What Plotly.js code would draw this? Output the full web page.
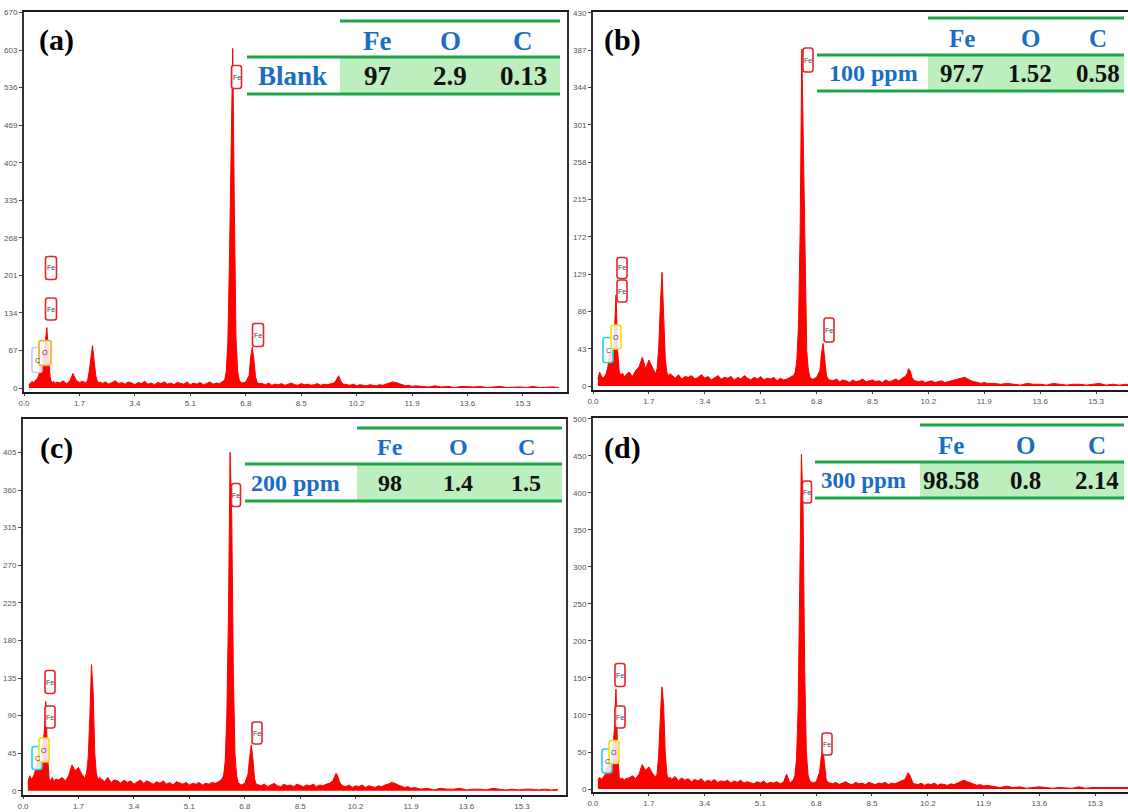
<!DOCTYPE html>
<html>
<head>
<meta charset="utf-8">
<script src="https://cdn.plot.ly/plotly-3.0.1.min.js"></script>
<style>html,body{margin:0;padding:0;background:#fff;}#chart{width:1128px;height:812px;}</style>
</head>
<body>
<div id="chart"></div>
<script>
// ---------------- DATA ----------------
const energy_keV = [
  0.15,0.20,0.25,0.30,0.35,0.40,0.45,0.50,0.55,0.60,0.65,0.70,0.75,0.80,0.85,0.90,0.95,1.00,
  1.1,1.2,1.3,1.4,1.5,1.6,1.7,1.8,1.9,
  1.95,2.00,2.05,2.10,2.15,2.20,2.25,2.30,2.35,
  2.4,2.5,2.6,2.7,2.8,2.9,3.0,3.1,3.2,3.3,3.4,3.5,3.6,3.7,3.8,3.9,4.0,4.1,4.2,4.3,4.4,4.5,4.6,4.7,4.8,4.9,5.0,5.1,5.2,5.3,5.4,5.5,5.6,5.7,5.8,5.9,6.0,6.1,
  6.15,6.20,6.25,6.30,6.35,6.40,6.45,6.50,6.55,6.60,6.65,
  6.7,6.8,6.9,
  6.95,7.00,7.05,7.10,7.15,7.20,
  7.3,7.4,7.5,7.6,7.7,7.8,7.9,8.0,8.1,8.2,8.3,8.4,8.5,8.6,8.7,8.8,8.9,9.0,9.1,9.2,9.3,9.4,9.5,
  9.55,9.60,9.65,9.70,9.75,9.80,
  9.9,10.0,10.1,10.2,10.3,10.4,10.5,10.6,10.7,10.8,10.9,11.0,11.1,11.2,11.3,11.4,11.5,11.6,11.7,11.8,11.9,12.0,
  12.2,12.4,12.6,12.8,13.0,13.2,13.4,13.6,13.8,14.0,14.2,14.4,14.6,14.8,15.0,15.2,15.4,15.6,15.8,16.0,16.2,16.4
];

// (a) Blank
const counts_a = [
  6,10,12,9,14,16,22,38,55,62,80,108,60,20,9,12,8,11,
  9,13,8,12,26,14,10,12,9,
  14,30,55,76,50,22,12,9,11,
  8,11,7,10,13,8,10,7,11,9,6,10,8,12,7,9,6,10,8,11,7,9,6,10,8,7,11,6,9,7,10,6,8,11,7,9,8,12,
  14,28,80,230,470,606,320,90,30,14,10,
  9,11,22,
  55,73,50,20,10,8,
  8,6,9,5,7,6,8,5,7,9,6,5,8,6,7,5,6,8,5,7,6,8,9,
  12,18,22,14,9,7,
  6,5,7,4,6,5,4,6,5,4,6,5,7,9,11,10,8,5,4,5,3,4,
  3,2,4,2,3,1,3,2,2,3,1,2,3,1,2,2,1,3,1,2,2,1
];
// (b) 100 ppm
const counts_b = [
  8,16,12,9,11,14,22,35,42,45,60,105,40,16,12,15,10,13,
  16,11,18,22,33,20,30,22,14,
  20,45,95,131,80,30,15,12,14,
  12,9,13,8,11,10,12,8,10,13,9,11,7,10,12,8,10,9,11,7,10,8,12,9,7,10,8,11,7,9,8,10,6,9,7,8,10,12,
  16,30,70,180,388,260,110,40,18,10,8,
  8,10,18,
  38,49,30,12,8,7,
  6,8,5,7,6,4,7,5,6,8,5,6,7,5,6,4,7,5,6,8,6,9,11,
  14,20,17,10,7,6,
  5,6,4,5,6,4,5,6,4,5,6,7,8,9,10,8,6,5,4,3,4,3,
  3,2,3,2,1,3,2,2,1,3,2,1,2,2,1,2,3,1,2,1,2,1
];
// (c) 200 ppm
const counts_c = [
  10,18,14,16,20,30,36,40,42,48,70,107,45,15,12,16,11,14,
  13,16,12,18,31,24,28,20,15,
  22,40,90,151,120,45,20,13,16,
  14,11,16,10,13,12,9,13,10,12,8,11,13,9,12,10,8,11,9,12,8,10,7,11,9,8,10,7,9,8,10,7,9,8,10,9,11,14,
  18,35,90,210,405,330,140,45,18,10,8,
  7,9,20,
  40,55,38,14,8,7,
  6,8,5,7,9,6,5,8,6,7,5,8,6,5,7,6,8,5,7,6,8,9,12,
  16,21,18,11,8,6,
  5,7,4,6,5,7,4,6,5,4,6,5,7,8,10,9,7,5,4,5,3,4,
  2,3,1,3,2,2,3,1,2,2,1,3,2,1,2,1,2,2,1,2,1,2
];
// (d) 300 ppm
const counts_d = [
  12,16,13,15,18,24,32,36,40,50,80,135,50,16,13,15,12,14,
  15,18,14,20,33,25,30,22,16,
  20,45,95,138,115,50,20,14,16,
  13,17,11,15,12,14,10,13,11,14,9,12,10,13,9,11,10,12,8,11,9,12,8,10,9,7,10,8,11,7,9,8,10,7,9,20,8,12,
  18,40,110,260,452,380,160,50,20,11,9,
  8,10,22,
  42,54,36,14,9,8,
  7,9,6,8,10,7,6,9,7,8,6,9,7,6,8,7,9,6,8,7,9,11,13,
  17,22,19,12,8,7,
  6,8,5,7,6,8,5,7,6,5,7,6,8,10,12,10,8,6,5,6,4,5,
  3,2,4,2,3,1,2,3,2,1,2,2,1,3,1,2,2,1,2,1,1,2
];

const x_tick_vals = [0, 1.7, 3.4, 5.1, 6.8, 8.5, 10.2, 11.9, 13.6, 15.3];
const x_tick_text = ['0.0','1.7','3.4','5.1','6.8','8.5','10.2','11.9','13.6','15.3'];
const y_ticks_a = [0,67,134,201,268,335,402,469,536,603,670];
const y_ticks_b = [0,43,86,129,172,215,258,301,344,387,430];
const y_ticks_c = [0,45,90,135,180,225,270,315,360,405];
const y_ticks_d = [0,50,100,150,200,250,300,350,400,450,500];

const panel_letters = ['(a)','(b)','(c)','(d)'];
const sample_labels = ['Blank','100 ppm','200 ppm','300 ppm'];
const element_headers = ['Fe','O','C'];
const fe_wt = [97, 97.7, 98, 98.58];
const o_wt  = [2.9, 1.52, 1.4, 0.8];
const c_wt  = [0.13, 0.58, 1.5, 2.14];

[counts_a, counts_b, counts_c, counts_d].forEach((c,i)=>{
  if (c.length !== energy_keV.length) throw new Error('length mismatch panel '+i+': '+c.length+' vs '+energy_keV.length);
});

// ---------------- LAYOUT HELPERS ----------------
const W = 1128, H = 812;
const X = px => px / W;
const Y = py => 1 - py / H;

const panels = [
  {counts: counts_a, yt: y_ticks_a, xd:[24,567], yd:[12,392], xr:[0,16.65], yr:[-7,671], rightLine:true},
  {counts: counts_b, yt: y_ticks_b, xd:[593,1128], yd:[12,390], xr:[0,16.27], yr:[-4.6,431], rightLine:false},
  {counts: counts_c, yt: y_ticks_c, xd:[23,566], yd:[419,795], xr:[0,16.65], yr:[-5,445], rightLine:true},
  {counts: counts_d, yt: y_ticks_d, xd:[593,1128], yd:[418,792], xr:[0,16.3], yr:[-4,501], rightLine:false}
];

const tickFont = {family:'"Liberation Sans Narrow","Liberation Sans",Arial,sans-serif', size:8, color:'#555'};
const traces = [];
const layout = {
  width: W, height: H,
  margin: {l:0, r:0, t:0, b:0},
  paper_bgcolor: '#ffffff', plot_bgcolor: '#ffffff',
  showlegend: false,
  shapes: [], annotations: []
};

panels.forEach((p, i) => {
  const n = i === 0 ? '' : String(i + 1);
  traces.push({
    type: 'scatter', mode: 'lines',
    x: energy_keV, y: p.counts,
    xaxis: 'x' + n, yaxis: 'y' + n,
    line: {color: '#ff0000', width: 1},
    fill: 'tozeroy', fillcolor: '#ff0000',
    hoverinfo: 'skip'
  });
  layout['xaxis' + n] = {
    domain: [X(p.xd[0]), X(p.xd[1])],
    range: p.xr, anchor: 'y' + n,
    tickmode: 'array', tickvals: x_tick_vals, ticktext: x_tick_text,
    ticks: 'outside', ticklen: 2, tickcolor: '#444', tickfont: tickFont,
    showgrid: false, zeroline: false,
    showline: true, linecolor: '#1a1a1a', linewidth: 2, mirror: true,
    fixedrange: true
  };
  layout['yaxis' + n] = {
    domain: [Y(p.yd[1]), Y(p.yd[0])],
    range: p.yr, anchor: 'x' + n,
    tickmode: 'array', tickvals: p.yt, ticktext: p.yt.map(String),
    ticks: 'outside', ticklen: 3, tickcolor: '#444', tickfont: tickFont,
    showgrid: false, zeroline: false,
    showline: true, linecolor: '#333', linewidth: 2, mirror: p.rightLine,
    fixedrange: true
  };
});

// panel letters
const letterPos = [[57,40],[622,40],[57,448],[622,448]];
panel_letters.forEach((t, i) => {
  layout.annotations.push({
    xref:'paper', yref:'paper', x: X(letterPos[i][0]), y: Y(letterPos[i][1]),
    xanchor:'center', yanchor:'middle', showarrow:false, text:'<b>'+t+'</b>',
    font:{family:'"Liberation Serif","Times New Roman",serif', size:30, color:'#000'}
  });
});

// composition tables
const tables = [
  {top:21, mid:57, bot:94, lineL:247, bgL:340, R:560, hdrY:41, rowY:76, lblX:293, cols:[377,450,523], fs:27, lfs:27},
  {top:18, mid:55, bot:91, lineL:817, bgL:928, R:1124, hdrY:38, rowY:73, lblX:873, cols:[962,1030,1098], fs:25, lfs:24},
  {top:428, mid:464, bot:501, lineL:245, bgL:357, R:562, hdrY:447, rowY:483, lblX:295, cols:[390,458,526], fs:24, lfs:24},
  {top:425, mid:462, bot:498, lineL:815, bgL:920, R:1124, hdrY:445, rowY:480, lblX:863, cols:[951,1025,1097], fs:25, lfs:23}
];
const green = '#1fa64a', blue = '#1a6cc4', bgGreen = '#bdeebd';
const serif = '"Liberation Serif","Times New Roman",serif';
tables.forEach((t, i) => {
  layout.shapes.push({type:'rect', xref:'paper', yref:'paper', x0:X(t.bgL), x1:X(t.R), y0:Y(t.mid), y1:Y(t.bot), fillcolor:bgGreen, line:{width:0}});
  [[t.bgL, t.top], [t.lineL, t.mid], [t.lineL, t.bot]].forEach(([x0, y]) => {
    layout.shapes.push({type:'line', xref:'paper', yref:'paper', x0:X(x0), x1:X(t.R), y0:Y(y), y1:Y(y), line:{color:green, width:3}});
  });
  element_headers.forEach((h, k) => {
    layout.annotations.push({xref:'paper', yref:'paper', x:X(t.cols[k]), y:Y(t.hdrY), xanchor:'center', yanchor:'middle', showarrow:false,
      text:'<b>'+h+'</b>', font:{family:serif, size:t.fs, color:blue}});
  });
  layout.annotations.push({xref:'paper', yref:'paper', x:X(t.lblX), y:Y(t.rowY), xanchor:'center', yanchor:'middle', showarrow:false,
    text:'<b>'+sample_labels[i]+'</b>', font:{family:serif, size:t.lfs, color:blue}});
  [fe_wt[i], o_wt[i], c_wt[i]].forEach((v, k) => {
    layout.annotations.push({xref:'paper', yref:'paper', x:X(t.cols[k]), y:Y(t.rowY), xanchor:'center', yanchor:'middle', showarrow:false,
      text:'<b>'+String(v)+'</b>', font:{family:serif, size:t.fs, color:'#111'}});
  });
});

// element marker boxes (rounded rectangles with tiny labels)
function rr(cx, cy, w, h, r) {
  const x0 = cx - w/2, x1 = cx + w/2, y0 = cy - h/2, y1 = cy + h/2;
  const P = (x, y) => X(x) + ',' + Y(y);
  return 'M' + P(x0 + r, y0) + ' L' + P(x1 - r, y0) + ' Q' + P(x1, y0) + ' ' + P(x1, y0 + r) +
    ' L' + P(x1, y1 - r) + ' Q' + P(x1, y1) + ' ' + P(x1 - r, y1) +
    ' L' + P(x0 + r, y1) + ' Q' + P(x0, y1) + ' ' + P(x0, y1 - r) +
    ' L' + P(x0, y0 + r) + ' Q' + P(x0, y0) + ' ' + P(x0 + r, y0) + ' Z';
}
const RED = '#e2262b';
const markers = [
  // (a)
  ['C', 37, 360, 10, 25, '#c8c8ee'], ['O', 45, 353, 12, 25, '#f5a623'],
  ['Fe', 51, 268, 11, 23, RED], ['Fe', 51, 309, 11, 22, RED],
  ['Fe', 236.5, 77, 10, 23, RED], ['Fe', 258, 335, 11, 23, RED],
  // (b)
  ['C', 608, 350, 10, 25, '#22d3e6'], ['O', 616, 337, 10, 24, '#ece20a'],
  ['Fe', 622, 268, 10, 21, RED], ['Fe', 622, 291, 10, 22, RED],
  ['Fe', 808, 60, 10, 24, RED], ['Fe', 829, 330, 10, 24, RED],
  // (c)
  ['C', 37, 758, 10, 23, '#22d3e6'], ['O', 44, 750, 10, 24, '#ece20a'],
  ['Fe', 50, 682, 10, 23, RED], ['Fe', 50, 717, 10, 22, RED],
  ['Fe', 236, 495, 9, 23, RED], ['Fe', 257, 733, 10, 22, RED],
  // (d)
  ['C', 607, 761, 10, 24, '#22d3e6'], ['O', 614, 752, 10, 23, '#ece20a'],
  ['Fe', 620, 675, 10, 23, RED], ['Fe', 620, 717, 10, 22, RED],
  ['Fe', 807, 492, 9, 22, RED], ['Fe', 827, 744, 10, 22, RED]
];
markers.forEach(([txt, cx, cy, w, h, col]) => {
  layout.shapes.push({type:'path', xref:'paper', yref:'paper', path: rr(cx, cy, w, h, 2.5),
    fillcolor:'rgba(255,255,255,0.85)', line:{color:col, width:1.6}});
  layout.annotations.push({xref:'paper', yref:'paper', x:X(cx), y:Y(cy), xanchor:'center', yanchor:'middle', showarrow:false,
    text: txt, font:{family:'"Liberation Sans Narrow","Liberation Sans",Arial,sans-serif', size:7, color:'#444'}});
});

Plotly.newPlot('chart', traces, layout, {staticPlot:true, displayModeBar:false});
</script>
</body>
</html>
